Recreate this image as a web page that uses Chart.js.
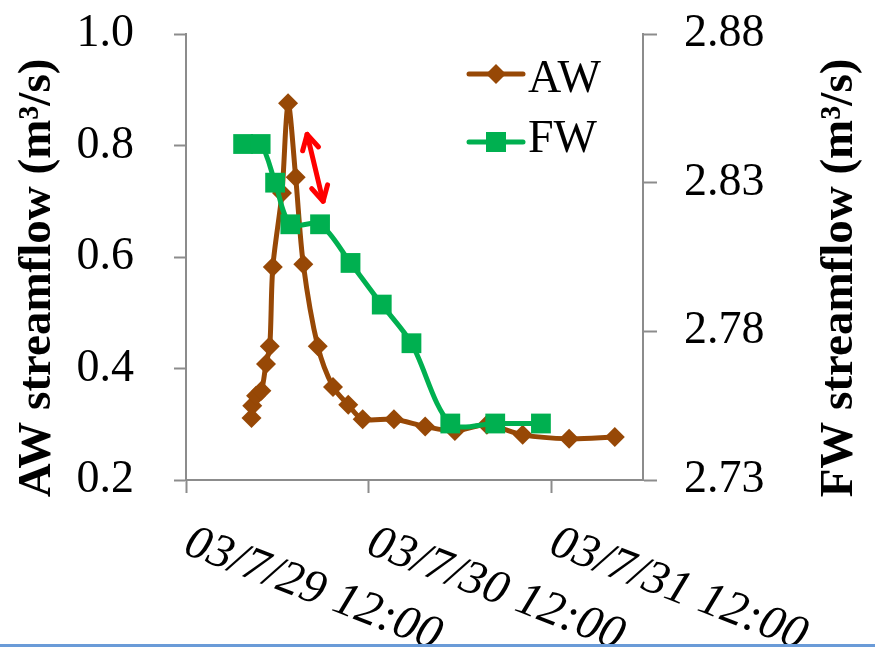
<!DOCTYPE html>
<html><head><meta charset="utf-8">
<script src="https://cdn.jsdelivr.net/npm/chart.js@4.4.0/dist/chart.umd.min.js"></script>
<style>html,body{margin:0;padding:0;background:#fff;}#wrap{width:875px;height:649px;position:relative;}</style>
</head><body><div id="wrap"><canvas id="c" width="875" height="649"></canvas></div>
<script>
// hours after 03/7/29 12:00
const awHours = [8.6, 8.7, 9.2, 9.9, 10.5, 11.0, 11.4, 12.6, 13.4, 14.4, 15.4, 17.3, 19.3, 21.3, 23.2, 27.3, 31.4, 35.3, 39.5, 44.2, 50.3, 56.3];
const awFlow  = [0.311, 0.333, 0.351, 0.360, 0.408, 0.440, 0.582, 0.715, 0.876, 0.743, 0.587, 0.440, 0.367, 0.335, 0.309, 0.309, 0.296, 0.288, 0.299, 0.281, 0.274, 0.277];
const fwHours = [7.5, 9.8, 11.7, 13.7, 17.6, 21.6, 25.7, 29.6, 34.7, 40.6, 46.6];
const fwFlow  = [2.843, 2.843, 2.830, 2.816, 2.816, 2.803, 2.789, 2.776, 2.749, 2.749, 2.749];
const xTickHours  = [0, 24, 48];
const xTickLabels = ['03/7/29 12:00', '03/7/30 12:00', '03/7/31 12:00'];
const awTicks = [0.2, 0.4, 0.6, 0.8, 1.0];
const fwTicks = [2.73, 2.78, 2.83, 2.88];
const arrowFrom = [15.9, 0.82];
const arrowTo   = [18.0, 0.70];

const BROWN = '#974806', GREEN = '#00B050', AXIS = '#8c8c8c';
const SERIF = '"Liberation Serif", "Times New Roman", serif';

const overlay = {
  id: 'overlay',
  afterDraw(chart) {
    const ctx = chart.ctx, xs = chart.scales.x, ys = chart.scales.y;
    ctx.save();
    // x tick labels (rotated, italic)
    ctx.fillStyle = '#000';
    ctx.font = 'italic 48px ' + SERIF;
    ctx.textAlign = 'left'; ctx.textBaseline = 'alphabetic';
    xTickHours.forEach((h, i) => {
      const px = xs.getPixelForValue(h);
      ctx.save();
      ctx.translate(px - 4, 553);
      ctx.rotate(21 * Math.PI / 180);
      ctx.fillText(xTickLabels[i], 0, 0);
      ctx.restore();
    });
    // axis titles
    ctx.font = 'bold 47px ' + SERIF;
    ctx.textAlign = 'center'; ctx.textBaseline = 'middle';
    ctx.save(); ctx.translate(38, 278); ctx.rotate(-Math.PI / 2);
    ctx.fillText('AW streamflow (m³/s)', 0, 0); ctx.restore();
    ctx.save(); ctx.translate(840, 278); ctx.rotate(-Math.PI / 2);
    ctx.fillText('FW streamflow (m³/s)', 0, 0); ctx.restore();
    // legend
    const legend = [
      {label: 'AW', color: BROWN, y: 74, base: 92, style: 'diamond'},
      {label: 'FW', color: GREEN, y: 142, base: 152, style: 'square'}
    ];
    legend.forEach(l => {
      ctx.strokeStyle = l.color; ctx.fillStyle = l.color;
      ctx.lineWidth = 5; ctx.lineCap = 'round';
      ctx.beginPath(); ctx.moveTo(469, l.y); ctx.lineTo(523, l.y); ctx.stroke();
      ctx.beginPath();
      if (l.style === 'diamond') {
        ctx.moveTo(496, l.y - 10); ctx.lineTo(506, l.y); ctx.lineTo(496, l.y + 10); ctx.lineTo(486, l.y);
        ctx.closePath();
      } else {
        ctx.rect(486, l.y - 10, 20, 20);
      }
      ctx.fill();
      ctx.fillStyle = '#000';
      ctx.font = '46px ' + SERIF;
      ctx.textAlign = 'left'; ctx.textBaseline = 'alphabetic';
      ctx.fillText(l.label, 528, l.base);
    });
    // red double arrow
    const x1 = xs.getPixelForValue(arrowFrom[0]), y1 = ys.getPixelForValue(arrowFrom[1]);
    const x2 = xs.getPixelForValue(arrowTo[0]), y2 = ys.getPixelForValue(arrowTo[1]);
    ctx.strokeStyle = '#FF0000'; ctx.lineWidth = 5; ctx.lineCap = 'round'; ctx.lineJoin = 'round';
    ctx.beginPath(); ctx.moveTo(x1, y1); ctx.lineTo(x2, y2); ctx.stroke();
    const head = (tx, ty, fx, fy) => {
      const a = Math.atan2(ty - fy, tx - fx), L = 17, s = 0.5;
      ctx.beginPath();
      ctx.moveTo(tx - L * Math.cos(a - s), ty - L * Math.sin(a - s));
      ctx.lineTo(tx, ty);
      ctx.lineTo(tx - L * Math.cos(a + s), ty - L * Math.sin(a + s));
      ctx.stroke();
    };
    head(x1, y1, x2, y2); head(x2, y2, x1, y1);
    // bottom rule
    ctx.fillStyle = '#6A9BD8';
    ctx.fillRect(0, 644, 875, 3);
    ctx.restore();
  }
};

const tickFont = {family: SERIF, size: 46};
new Chart(document.getElementById('c'), {
  type: 'line',
  data: {
    datasets: [
      {
        label: 'FW', yAxisID: 'y2', order: 0,
        data: fwHours.map((x, i) => ({x, y: fwFlow[i]})),
        borderColor: GREEN, backgroundColor: GREEN, borderWidth: 5,
        pointStyle: 'rect', pointRadius: 14, pointBorderWidth: 0, pointBackgroundColor: GREEN,
        tension: 0.3
      },
      {
        label: 'AW', yAxisID: 'y', order: 1,
        data: awHours.map((x, i) => ({x, y: awFlow[i]})),
        borderColor: BROWN, backgroundColor: BROWN, borderWidth: 5,
        pointStyle: 'rectRot', pointRadius: 10, pointBorderWidth: 0, pointBackgroundColor: BROWN,
        tension: 0.3
      }
    ]
  },
  options: {
    responsive: false, animation: false, devicePixelRatio: 1,
    layout: {padding: {top: 34, left: 0, right: 0, bottom: 0}},
    plugins: {legend: {display: false}, tooltip: {enabled: false}},
    scales: {
      x: {
        type: 'linear', min: 0, max: 60,
        afterBuildTicks: s => { s.ticks = xTickHours.map(v => ({value: v})); },
        afterFit: s => { s.height = 169; },
        ticks: {display: false},
        grid: {drawOnChartArea: false, drawTicks: true, tickLength: 13, tickColor: AXIS, tickWidth: 2},
        border: {display: true, color: AXIS, width: 2}
      },
      y: {
        position: 'left', min: 0.2, max: 1.0,
        afterBuildTicks: s => { s.ticks = awTicks.map(v => ({value: v})); },
        afterFit: s => { s.width = 186; s.paddingTop = 0; s.paddingBottom = 0; },
        ticks: {font: tickFont, color: '#000', padding: 40, callback: v => v.toFixed(1)},
        grid: {drawOnChartArea: false, drawTicks: true, tickLength: 12, tickColor: AXIS, tickWidth: 2},
        border: {display: true, color: AXIS, width: 2}
      },
      y2: {
        position: 'right', min: 2.73, max: 2.88,
        afterBuildTicks: s => { s.ticks = fwTicks.map(v => ({value: v})); },
        afterFit: s => { s.width = 232; s.paddingTop = 0; s.paddingBottom = 0; },
        ticks: {font: tickFont, color: '#000', padding: 27, callback: v => v.toFixed(2)},
        grid: {drawOnChartArea: false, drawTicks: true, tickLength: 14, tickColor: AXIS, tickWidth: 2},
        border: {display: true, color: AXIS, width: 2}
      }
    }
  },
  plugins: [overlay]
});
</script>
</body></html>
